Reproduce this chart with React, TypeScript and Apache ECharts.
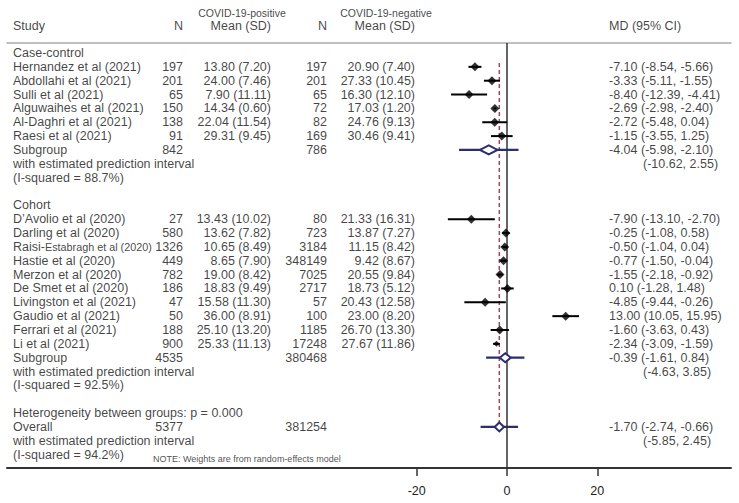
import React, { useEffect, useRef } from "react";
import * as echarts from "echarts";

// ---------- Data ----------
const caseStudies = [
  "Hernandez et al (2021)",
  "Abdollahi et al (2021)",
  "Sulli et al (2021)",
  "Alguwaihes et al (2021)",
  "Al-Daghri et al (2021)",
  "Raesi et al (2021)",
];
const caseNPos = [197, 201, 65, 150, 138, 91];
const caseMeanPos = ["13.80 (7.20)", "24.00 (7.46)", "7.90 (11.11)", "14.34 (0.60)", "22.04 (11.54)", "29.31 (9.45)"];
const caseNNeg = [197, 201, 65, 72, 82, 169];
const caseMeanNeg = ["20.90 (7.40)", "27.33 (10.45)", "16.30 (12.10)", "17.03 (1.20)", "24.76 (9.13)", "30.46 (9.41)"];
const caseMD = [-7.1, -3.33, -8.4, -2.69, -2.72, -1.15];
const caseLo = [-8.54, -5.11, -12.39, -2.98, -5.48, -3.55];
const caseHi = [-5.66, -1.55, -4.41, -2.4, 0.04, 1.25];

const cohortStudies = [
  "D\u2019Avolio et al (2020)",
  "Darling et al (2020)",
  "Raisi-Estabragh et al (2020)",
  "Hastie et al (2020)",
  "Merzon et al (2020)",
  "De Smet et al (2020)",
  "Livingston et al (2021)",
  "Gaudio et al (2021)",
  "Ferrari et al (2021)",
  "Li et al (2021)",
];
const cohortNPos = [27, 580, 1326, 449, 782, 186, 47, 50, 188, 900];
const cohortMeanPos = ["13.43 (10.02)", "13.62 (7.82)", "10.65 (8.49)", "8.65 (7.90)", "19.00 (8.42)", "18.83 (9.49)", "15.58 (11.30)", "36.00 (8.91)", "25.10 (13.20)", "25.33 (11.13)"];
const cohortNNeg = [80, 723, 3184, 348149, 7025, 2717, 57, 100, 1185, 17248];
const cohortMeanNeg = ["21.33 (16.31)", "13.87 (7.27)", "11.15 (8.42)", "9.42 (8.67)", "20.55 (9.84)", "18.73 (5.12)", "20.43 (12.58)", "23.00 (8.20)", "26.70 (13.30)", "27.67 (11.86)"];
const cohortMD = [-7.9, -0.25, -0.5, -0.77, -1.55, 0.1, -4.85, 13.0, -1.6, -2.34];
const cohortLo = [-13.1, -1.08, -1.04, -1.5, -2.18, -1.28, -9.44, 10.05, -3.63, -3.09];
const cohortHi = [-2.7, 0.58, 0.04, -0.04, -0.92, 1.48, -0.26, 15.95, 0.43, -1.59];

// Summaries: case-control subgroup, cohort subgroup, overall
const summaryLabels = ["Subgroup", "Subgroup", "Overall"];
const summaryNPos = [842, 4535, 5377];
const summaryNNeg = [786, 380468, 381254];
const summaryMD = [-4.04, -0.39, -1.7];
const summaryLo = [-5.98, -1.61, -2.74];
const summaryHi = [-2.1, 0.84, -0.66];
const summaryPiLo = [-10.62, -4.63, -5.85];
const summaryPiHi = [2.55, 3.85, 2.45];
const summaryI2 = ["88.7%", "92.5%", "94.2%"];
const heterogeneityP = "0.000";

const axisTicks = [-20, 0, 20];

// ---------- Layout helpers ----------
const FONT = "'Liberation Sans', Arial, sans-serif";
const TEXT = "#111";
const NAVY = "#2c2f6b";
const ROW0_PX = 53;
const ROW_H = 13.85;
const AXIS_PX = 468;
const pxToRow = (px: number) => (px - ROW0_PX) / ROW_H;

const COL_STUDY = 13;
const COL_NPOS = 183;
const COL_MPOS = 271;
const COL_NNEG = 327;
const COL_MNEG = 415;
const COL_MD = 609;
const COL_PI = 643;

const fmt = (v: number) => v.toFixed(2);

export default function App() {
  const ref = useRef<HTMLDivElement>(null);

  useEffect(() => {
    if (!ref.current) return;
    const chart = echarts.init(ref.current, undefined, { renderer: "svg" });

    const leftTexts: any[] = [];
    const rightTexts: any[] = [];
    const centerTexts: any[] = [];
    const studyPoints: any[] = [];
    const studyCI: any[] = [];
    const summaries: any[] = [];

    const L = (x: number, row: number, text: string, extra: any = {}) =>
      leftTexts.push({ value: [x, row], name: text, label: extra });
    const R = (x: number, row: number, text: string, extra: any = {}) =>
      rightTexts.push({ value: [x, row], name: text, label: extra });

    // headers
    const hRow = pxToRow(26);
    const sRow = pxToRow(13);
    L(COL_STUDY, hRow, "Study");
    R(COL_NPOS, hRow, "N");
    R(COL_MPOS, hRow, "Mean (SD)");
    R(COL_NNEG, hRow, "N");
    R(COL_MNEG, hRow, "Mean (SD)");
    L(COL_MD, hRow, "MD (95% CI)");
    centerTexts.push({ value: [242, sRow], name: "COVID-19-positive", label: { fontSize: 10.5 } });
    centerTexts.push({ value: [386, sRow], name: "COVID-19-negative", label: { fontSize: 10.5 } });

    const addSummary = (sr: number, si: number) => {
      L(COL_STUDY, sr, summaryLabels[si]);
      R(COL_NPOS, sr, String(summaryNPos[si]));
      R(COL_NNEG, sr, String(summaryNNeg[si]));
      L(COL_MD, sr, `${fmt(summaryMD[si])} (${fmt(summaryLo[si])}, ${fmt(summaryHi[si])})`);
      L(COL_STUDY, sr + 1, "with estimated prediction interval");
      L(COL_PI, sr + 1, `(${fmt(summaryPiLo[si])}, ${fmt(summaryPiHi[si])})`);
      L(COL_STUDY, sr + 2, `(I-squared = ${summaryI2[si]})`);
      summaries.push([summaryMD[si], sr, summaryLo[si], summaryHi[si], summaryPiLo[si], summaryPiHi[si]]);
    };

    const addGroup = (
      title: string,
      startRow: number,
      names: string[],
      nPos: number[],
      mPos: string[],
      nNeg: number[],
      mNeg: string[],
      md: number[],
      lo: number[],
      hi: number[],
      si: number
    ) => {
      L(COL_STUDY, startRow, title);
      names.forEach((n, i) => {
        const r = startRow + 1 + i;
        L(COL_STUDY, r, n);
        R(COL_NPOS, r, String(nPos[i]));
        R(COL_MPOS, r, mPos[i]);
        R(COL_NNEG, r, String(nNeg[i]));
        R(COL_MNEG, r, mNeg[i]);
        L(COL_MD, r, `${fmt(md[i])} (${fmt(lo[i])}, ${fmt(hi[i])})`);
        studyPoints.push({ value: [md[i], r], symbolSize: n.startsWith("Li ") ? 6 : 9 });
        studyCI.push([md[i], r, lo[i], hi[i]]);
      });
      addSummary(startRow + 1 + names.length, si);
    };

    addGroup("Case-control", 0, caseStudies, caseNPos, caseMeanPos, caseNNeg, caseMeanNeg, caseMD, caseLo, caseHi, 0);
    addGroup("Cohort", 11, cohortStudies, cohortNPos, cohortMeanPos, cohortNNeg, cohortMeanNeg, cohortMD, cohortLo, cohortHi, 1);
    L(COL_STUDY, 26, `Heterogeneity between groups: p = ${heterogeneityP}`);
    addSummary(27, 2);
    L(153, pxToRow(459), "NOTE: Weights are from random-effects model", { fontSize: 9, color: "#222" });

    const yMinA = pxToRow(0);
    const yMinB = pxToRow(43);
    const yMax = pxToRow(AXIS_PX);
    const xMinB = (7 - 507) / 4.515;
    const xMaxB = (731 - 507) / 4.515;

    const textSeries = (data: any[], align: string) => ({
      type: "scatter",
      xAxisIndex: 0,
      yAxisIndex: 0,
      data,
      symbolSize: 1,
      itemStyle: { color: "transparent" },
      silent: true,
      clip: false,
      label: {
        show: true,
        position: "inside",
        align,
        verticalAlign: "middle",
        fontFamily: FONT,
        fontSize: 12.5,
        color: TEXT,
        formatter: (p: any) =>
          p.name.startsWith("Raisi-") ? "Raisi-{s|" + p.name.slice(6) + "}" : p.name,
        rich: { s: { fontSize: 10.8, fontFamily: FONT, color: TEXT } },
      },
    });

    const option: any = {
      animation: false,
      backgroundColor: "#fff",
      grid: [
        { left: 7, right: 8, top: 0, bottom: 503 - AXIS_PX },
        { left: 7, right: 8, top: 43, bottom: 503 - AXIS_PX },
      ],
      xAxis: [
        { type: "value", gridIndex: 0, min: 7, max: 731, show: false },
        {
          type: "value",
          gridIndex: 1,
          min: xMinB,
          max: xMaxB,
          position: "bottom",
          axisLine: { show: true, onZero: false, lineStyle: { color: "#333", width: 2 } },
          axisTick: { show: true, customValues: axisTicks, length: 8, lineStyle: { color: "#333", width: 1.5 } },
          axisLabel: { show: true, customValues: axisTicks, margin: 16, fontSize: 12.5, fontFamily: FONT, color: "#222" },
          splitLine: { show: false },
        },
        {
          type: "value",
          gridIndex: 1,
          min: xMinB,
          max: xMaxB,
          position: "top",
          axisLine: { show: true, onZero: false, lineStyle: { color: "#aaa", width: 1.5 } },
          axisTick: { show: false },
          axisLabel: { show: false },
          splitLine: { show: false },
        },
      ],
      yAxis: [
        { type: "value", gridIndex: 0, min: yMinA, max: yMax, inverse: true, show: false },
        { type: "value", gridIndex: 1, min: yMinB, max: yMax, inverse: true, show: false },
      ],
      series: [
        textSeries(leftTexts, "left"),
        textSeries(rightTexts, "right"),
        textSeries(centerTexts, "center"),
        {
          type: "line",
          xAxisIndex: 1,
          yAxisIndex: 1,
          data: [[0, yMinB], [0, yMax]],
          symbol: "none",
          lineStyle: { color: "#333", width: 1.5 },
          silent: true,
          z: 1,
        },
        {
          type: "line",
          xAxisIndex: 1,
          yAxisIndex: 1,
          data: [[summaryMD[2], 0.72], [summaryMD[2], 27]],
          symbol: "none",
          lineStyle: { color: "#a04658", width: 1.5, type: [4, 3] },
          silent: true,
          z: 2,
        },
        {
          type: "custom",
          xAxisIndex: 1,
          yAxisIndex: 1,
          data: studyCI,
          encode: { x: 0, y: 1 },
          silent: true,
          z: 3,
          renderItem: (_p: any, api: any) => {
            const r = api.value(1);
            const a = api.coord([api.value(2), r]);
            const b = api.coord([api.value(3), r]);
            return {
              type: "line",
              shape: { x1: a[0], y1: a[1], x2: b[0], y2: b[1] },
              style: { stroke: "#000", lineWidth: 2 },
            };
          },
        },
        {
          type: "scatter",
          xAxisIndex: 1,
          yAxisIndex: 1,
          data: studyPoints,
          symbol: "diamond",
          itemStyle: { color: "#000" },
          silent: true,
          z: 4,
        },
        {
          type: "custom",
          xAxisIndex: 1,
          yAxisIndex: 1,
          data: summaries,
          encode: { x: 0, y: 1 },
          silent: true,
          z: 5,
          renderItem: (_p: any, api: any) => {
            const r = api.value(1);
            const m = api.coord([api.value(0), r]);
            const lo = api.coord([api.value(2), r]);
            const hi = api.coord([api.value(3), r]);
            const pl = api.coord([api.value(4), r]);
            const ph = api.coord([api.value(5), r]);
            const h = 4.5;
            return {
              type: "group",
              children: [
                {
                  type: "line",
                  shape: { x1: pl[0], y1: pl[1], x2: ph[0], y2: ph[1] },
                  style: { stroke: NAVY, lineWidth: 2.2 },
                },
                {
                  type: "polygon",
                  shape: {
                    points: [
                      [lo[0], lo[1]],
                      [m[0], m[1] - h],
                      [hi[0], hi[1]],
                      [m[0], m[1] + h],
                    ],
                  },
                  style: { fill: "#fff", stroke: NAVY, lineWidth: 2 },
                },
              ],
            };
          },
        },
      ],
    };

    chart.setOption(option);
    return () => chart.dispose();
  }, []);

  return (
    <div
      ref={ref}
      style={{ position: "fixed", left: 0, top: 0, width: 739, height: 503, background: "#fff" }}
    />
  );
}
